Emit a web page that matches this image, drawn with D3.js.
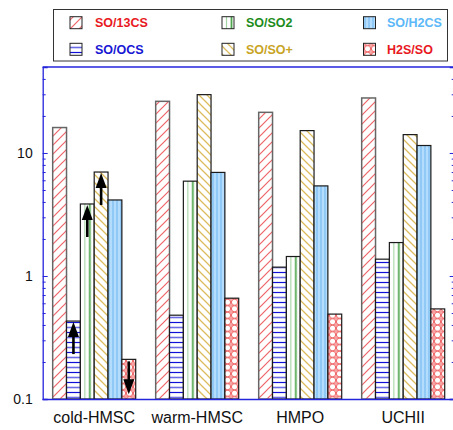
<!DOCTYPE html>
<html>
<head>
<meta charset="utf-8">
<script src="https://cdn.jsdelivr.net/npm/d3@7"></script>
<style>
  html, body { margin: 0; padding: 0; background: #fff; }
  svg { display: block; font-family: "Liberation Sans", Arial, sans-serif; }
</style>
</head>
<body>
<svg id="chart" width="453" height="430"></svg>
<script>
// Abundance ratios per source type
const groups = ["cold-HMSC", "warm-HMSC", "HMPO", "UCHII"];
const seriesNames = ["SO/13CS", "SO/OCS", "SO/SO2", "SO/SO+", "SO/H2CS", "H2S/SO"];
const so13cs = [16.1, 26.3, 21.4, 28.0];
const soOcs  = [0.43, 0.48, 1.18, 1.37];
const soSo2  = [3.85, 5.9, 1.44, 1.87];
const soSoP  = [7.0, 29.8, 15.2, 14.1];
const soH2cs = [4.15, 6.95, 5.4, 11.5];
const h2sSo  = [0.21, 0.66, 0.49, 0.54];
// limits for cold-HMSC: "lower" = value is a lower limit, "upper" = upper limit
const coldLimits = ["", "lower", "lower", "lower", "", "upper"];
const majorTicks = [0.1, 1, 10];
const minorTicks = [0.2,0.3,0.4,0.5,0.6,0.7,0.8,0.9,2,3,4,5,6,7,8,9,20,30,40,50];

const values = [so13cs, soOcs, soSo2, soSoP, soH2cs, h2sSo];
const legendOrder = [0, 2, 4, 1, 3, 5];
const textColors = ["#e8191e", "#1717d4", "#1c8c1c", "#c8a424", "#5cb8f8", "#e8191e"];
const patternIds = ["p13cs", "pocs", "pso2", "psop", "ph2cs", "ph2s"];

const svg = d3.select("#chart");
const axisColor = "#2424dc";
const plotLeft = 42.7, plotRight = 454.7, plotTop = 67, plotBottom = 399;

// ---- fill patterns ----
const defs = svg.append("defs");
function pat(id, w, h) {
  const p = defs.append("pattern").attr("id", id).attr("patternUnits", "userSpaceOnUse")
    .attr("width", w).attr("height", h);
  p.append("rect").attr("width", w).attr("height", h).attr("fill", "#fff");
  return p;
}
{ // SO/13CS : "/" hatching
  const p = pat("p13cs", 9, 9);
  p.append("path").attr("d", "M-1,10 L10,-1 M-2,2 L2,-2 M7,11 L11,7")
    .attr("stroke", "#ee6468").attr("stroke-width", 1.2).attr("fill", "none");
}
{ // SO/OCS : horizontal lines
  const p = pat("pocs", 10, 10);
  p.append("line").attr("x1", 0).attr("x2", 10).attr("y1", 2.5).attr("y2", 2.5)
    .attr("stroke", "#1010d8").attr("stroke-width", 1.2);
  p.append("line").attr("x1", 0).attr("x2", 10).attr("y1", 7.5).attr("y2", 7.5)
    .attr("stroke", "#6a6ae6").attr("stroke-width", 1.6);
}
{ // SO/SO2 : two vertical green lines, placed relative to each bar
  const p = defs.append("pattern").attr("id", "pso2").attr("patternUnits", "objectBoundingBox")
    .attr("width", 1).attr("height", 1);
  p.append("rect").attr("width", 20).attr("height", 400).attr("fill", "#fff");
  p.append("line").attr("x1", 4.5).attr("x2", 4.5).attr("y1", 0).attr("y2", 400)
    .attr("stroke", "#a6d6a6").attr("stroke-width", 1.2);
  p.append("line").attr("x1", 9.5).attr("x2", 9.5).attr("y1", 0).attr("y2", 400)
    .attr("stroke", "#4fa64f").attr("stroke-width", 1.8);
}
{ // SO/SO+ : "\" hatching
  const p = pat("psop", 8, 8);
  p.append("path").attr("d", "M-1,-1 L9,9 M-2,6 L2,10 M6,-2 L10,2")
    .attr("stroke", "#dcbc5c").attr("stroke-width", 1.3).attr("fill", "none");
}
{ // SO/H2CS : light blue with vertical lines
  const p = defs.append("pattern").attr("id", "ph2cs").attr("patternUnits", "userSpaceOnUse")
    .attr("width", 4).attr("height", 10);
  p.append("rect").attr("width", 4).attr("height", 10).attr("fill", "#b4dcfc");
  p.append("line").attr("x1", 1).attr("x2", 1).attr("y1", 0).attr("y2", 10)
    .attr("stroke", "#6cb4f0").attr("stroke-width", 1);
}
{ // H2S/SO : overlapping circles
  const p = pat("ph2s", 7, 6.5);
  p.append("circle").attr("cx", 3.5).attr("cy", 3.25).attr("r", 3.1)
    .attr("fill", "none").attr("stroke", "#f06a6a").attr("stroke-width", 1.1);
  p.append("circle").attr("cx", 0).attr("cy", 0).attr("r", 1.2).attr("fill", "#f6a0a0");
  p.append("circle").attr("cx", 7).attr("cy", 0).attr("r", 1.2).attr("fill", "#f6a0a0");
  p.append("circle").attr("cx", 0).attr("cy", 6.5).attr("r", 1.2).attr("fill", "#f6a0a0");
  p.append("circle").attr("cx", 7).attr("cy", 6.5).attr("r", 1.2).attr("fill", "#f6a0a0");
}

// ---- scales ----
const x0 = d3.scaleBand().domain(groups).range([plotLeft, plotRight])
  .paddingInner(0.194).paddingOuter(0.097);
const x1 = d3.scaleBand().domain(d3.range(seriesNames.length)).range([0, x0.bandwidth()]).padding(0);
const y = d3.scaleLog().domain([0.1, 50]).range([plotBottom, plotTop]);

// ---- bars ----
const barData = [];
groups.forEach((g, gi) => {
  seriesNames.forEach((s, si) => {
    barData.push({ g, gi, si, v: values[si][gi], lim: gi === 0 ? coldLimits[si] : "" });
  });
});

svg.append("g").selectAll("rect").data(barData).join("rect")
  .attr("x", d => x0(d.g) + x1(d.si))
  .attr("y", d => y(d.v))
  .attr("width", x1.bandwidth())
  .attr("height", d => plotBottom - y(d.v))
  .attr("fill", d => `url(#${patternIds[d.si]})`)
  .attr("stroke", d => d.si === 0 ? "#666" : "#1a1a1a")
  .attr("stroke-width", d => d.si === 0 ? 1.5 : 1.2);

// ---- limit arrows ----
const arrowLen = 33, headH = 15, headW = 11;
const arrows = svg.append("g");
barData.filter(d => d.lim).forEach(d => {
  const cx = x0(d.g) + x1(d.si) + x1.bandwidth() / 2;
  const yt = y(d.v);
  if (d.lim === "lower") {
    const tip = yt + 1, tail = yt + arrowLen;
    arrows.append("line").attr("x1", cx).attr("x2", cx).attr("y1", tip + headH - 1).attr("y2", tail)
      .attr("stroke", "#000").attr("stroke-width", 2.6);
    arrows.append("path").attr("d", `M${cx},${tip} L${cx - headW / 2},${tip + headH} L${cx + headW / 2},${tip + headH} Z`)
      .attr("fill", "#000");
  } else {
    const tail = yt + 2, tip = yt + 35;
    arrows.append("line").attr("x1", cx).attr("x2", cx).attr("y1", tail).attr("y2", tip - headH + 1)
      .attr("stroke", "#000").attr("stroke-width", 2.6);
    arrows.append("path").attr("d", `M${cx},${tip} L${cx - headW / 2},${tip - headH} L${cx + headW / 2},${tip - headH} Z`)
      .attr("fill", "#000");
  }
});

// ---- axes ----
function styleAxis(g) {
  g.selectAll(".domain").attr("stroke", axisColor).attr("stroke-width", 1.3);
  g.selectAll(".tick line").attr("stroke", axisColor).attr("stroke-width", 1);
}
const fmt = d => d >= 1 ? String(d) : "0.1";
const yLeft = svg.append("g").attr("transform", `translate(${plotLeft},0)`)
  .call(d3.axisLeft(y).tickValues(majorTicks).tickSize(-5).tickPadding(10).tickFormat(fmt))
  .call(styleAxis);
yLeft.selectAll("text").attr("fill", "#111").attr("font-size", 14)
  .attr("font-family", "'Liberation Sans', Arial, sans-serif");
svg.append("g").attr("transform", `translate(${plotLeft},0)`)
  .call(d3.axisLeft(y).tickValues(minorTicks).tickSize(-3).tickFormat(""))
  .call(styleAxis).call(g => g.select(".domain").remove());

svg.append("g").attr("transform", `translate(${plotRight},0)`)
  .call(d3.axisRight(y).tickValues(majorTicks).tickSize(-5).tickFormat(""))
  .call(styleAxis);
svg.append("g").attr("transform", `translate(${plotRight},0)`)
  .call(d3.axisRight(y).tickValues(minorTicks).tickSize(-3).tickFormat(""))
  .call(styleAxis).call(g => g.select(".domain").remove());

const xAxis = svg.append("g").attr("transform", `translate(0,${plotBottom})`)
  .call(d3.axisBottom(x0).tickSize(0).tickPadding(13).tickSizeOuter(0))
  .call(styleAxis);
xAxis.select(".domain").attr("d", `M${plotLeft},0.5H${plotRight}`);
xAxis.selectAll("text").attr("fill", "#111").attr("font-size", 16)
  .attr("font-family", "'Liberation Sans', Arial, sans-serif");

// top frame line
svg.append("line").attr("x1", plotLeft).attr("x2", plotRight).attr("y1", plotTop).attr("y2", plotTop)
  .attr("stroke", axisColor).attr("stroke-width", 1.3);

// ---- legend ----
const lg = svg.append("g");
lg.append("rect").attr("x", 53.5).attr("y", 9.5).attr("width", 394).attr("height", 51.5)
  .attr("fill", "#fff").attr("stroke", "#333").attr("stroke-width", 1);
const colX = [70, 222, 363.5], textX = [95, 246, 387], rowY = [22.7, 49.3];
legendOrder.forEach((si, k) => {
  const c = k % 3, r = Math.floor(k / 3);
  lg.append("rect").attr("x", colX[c]).attr("y", rowY[r] - 6).attr("width", 12).attr("height", 12)
    .attr("fill", `url(#${patternIds[si]})`).attr("stroke", "#222").attr("stroke-width", 1);
  lg.append("text").attr("x", textX[c]).attr("y", rowY[r]).attr("dy", "0.36em")
    .attr("font-size", 12.5).attr("font-weight", "bold").attr("fill", textColors[si])
    .text(seriesNames[si]);
});
</script>
</body>
</html>
